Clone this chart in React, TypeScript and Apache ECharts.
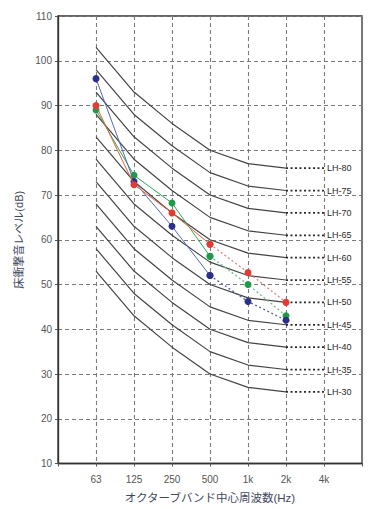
import React, { useEffect, useRef } from "react";
import * as echarts from "echarts";

const categories = ["", "63", "125", "250", "500", "1k", "2k", "4k", ""];

// LH reference curves (values at 63, 125, 250, 500, 1k, 2k Hz)
const lhNames = ["LH-80", "LH-75", "LH-70", "LH-65", "LH-60", "LH-55", "LH-50", "LH-45", "LH-40", "LH-35", "LH-30"];
const lh80 = [103, 93, 86, 80, 77, 76];
const lh75 = [98, 88, 81, 75, 72, 71];
const lh70 = [93, 83, 76, 70, 67, 66];
const lh65 = [88, 78, 71, 65, 62, 61];
const lh60 = [83, 73, 66, 60, 57, 56];
const lh55 = [78, 68, 61, 55, 52, 51];
const lh50 = [73, 63, 56, 50, 47, 46];
const lh45 = [68, 58, 51, 45, 42, 41];
const lh40 = [63, 53, 46, 40, 37, 36];
const lh35 = [58, 48, 41, 35, 32, 31];
const lh30 = [53, 43, 36, 30, 27, 26];
const lhCurves = [lh80, lh75, lh70, lh65, lh60, lh55, lh50, lh45, lh40, lh35, lh30];

// measured series (63, 125, 250, 500, 1k, 2k Hz)
const blueValues = [96, 73, 63, 52, 46.2, 42];
const redValues = [90, 72.3, 66, 59, 52.7, 46];
const greenValues = [89, 74.4, 68.2, 56.3, 50, 43];

const yTicks = { min: 10, max: 110, interval: 10 };

const FONT = "'Liberation Sans', 'Noto Sans CJK JP', sans-serif";

function solidPart(vals: number[]) {
  const d: (number | string)[] = ["-"];
  vals.forEach((v, i) => d.push(i <= 3 ? v : "-"));
  return d;
}
function dottedPart(vals: number[]) {
  const d: (number | string)[] = ["-"];
  vals.forEach((v, i) => d.push(i >= 3 ? v : "-"));
  return d;
}

export default function App() {
  const ref = useRef<HTMLDivElement>(null);
  useEffect(() => {
    if (!ref.current) return;
    const chart = echarts.init(ref.current, undefined, { renderer: "svg" });

    const series: any[] = [];
    lhCurves.forEach((vals, k) => {
      series.push({
        type: "line",
        data: ["-", ...vals],
        symbol: "none",
        lineStyle: { color: "#444", width: 1.2 },
        z: 2,
      });
      const ext: (number | string)[] = ["-", "-", "-", "-", "-", "-", vals[5], vals[5]];
      series.push({
        type: "line",
        data: ext,
        symbol: "none",
        lineStyle: { color: "#2a2a2a", width: 1.7, type: [2, 2.5] },
        endLabel: {
          show: true,
          formatter: lhNames[k],
          distance: 3,
          fontSize: 9,
          color: "#2a2a2a",
          fontFamily: FONT,
        },
        z: 2,
      });
    });

    const meas = [
      { vals: greenValues, marker: "#1f9a4a", line: "#2aa85a", dot: "#6cbf8a" },
      { vals: blueValues, marker: "#2b2f8c", line: "#5468b8", dot: "#55609e" },
      { vals: redValues, marker: "#e53a33", line: "#e0603c", dot: "#e48080" },
    ];
    meas.forEach((m, i) => {
      series.push({
        type: "line",
        data: solidPart(m.vals),
        symbol: "circle",
        symbolSize: 7,
        itemStyle: { color: m.marker },
        lineStyle: { color: m.line, width: 1 },
        z: 5 + i,
      });
      series.push({
        type: "line",
        data: dottedPart(m.vals),
        symbol: "circle",
        symbolSize: 7,
        itemStyle: { color: m.marker },
        lineStyle: { color: m.dot, width: 1.3, type: [2, 2.5] },
        z: 5 + i,
      });
    });

    chart.setOption({
      animation: false,
      grid: {
        left: 58,
        right: 12,
        top: 16,
        bottom: 41,
        show: true,
        borderColor: "#333",
        borderWidth: 1.3,
      },
      xAxis: {
        type: "category",
        data: categories,
        boundaryGap: false,
        name: "オクターブバンド中心周波数(Hz)",
        nameLocation: "middle",
        nameGap: 29,
        nameTextStyle: { fontSize: 11.5, color: "#3f4860", fontFamily: FONT },
        axisLine: { lineStyle: { color: "#333", width: 1.3 } },
        axisTick: { show: true, length: 3, lineStyle: { color: "#555" } },
        axisLabel: { fontSize: 10, color: "#555", margin: 11, fontFamily: FONT },
        splitLine: { show: true, lineStyle: { color: "#7a7a7a", width: 1.1, type: [4, 3] } },
      },
      yAxis: {
        type: "value",
        min: yTicks.min,
        max: yTicks.max,
        interval: yTicks.interval,
        name: "床衝撃音レベル(dB)",
        nameLocation: "middle",
        nameGap: 23,
        nameTextStyle: { fontSize: 11, color: "#3f4860", fontFamily: FONT },
        axisLine: { show: true, lineStyle: { color: "#333", width: 1.3 } },
        axisTick: { show: true, length: 3, lineStyle: { color: "#555" } },
        axisLabel: { fontSize: 10, color: "#555", margin: 6, fontFamily: FONT },
        splitLine: { show: true, lineStyle: { color: "#7a7a7a", width: 1.1, type: [4, 3] } },
      },
      series,
    });
    return () => chart.dispose();
  }, []);
  return (
    <div
      ref={ref}
      style={{ position: "fixed", left: 0, top: 0, width: 374, height: 509, background: "#fff" }}
    />
  );
}
